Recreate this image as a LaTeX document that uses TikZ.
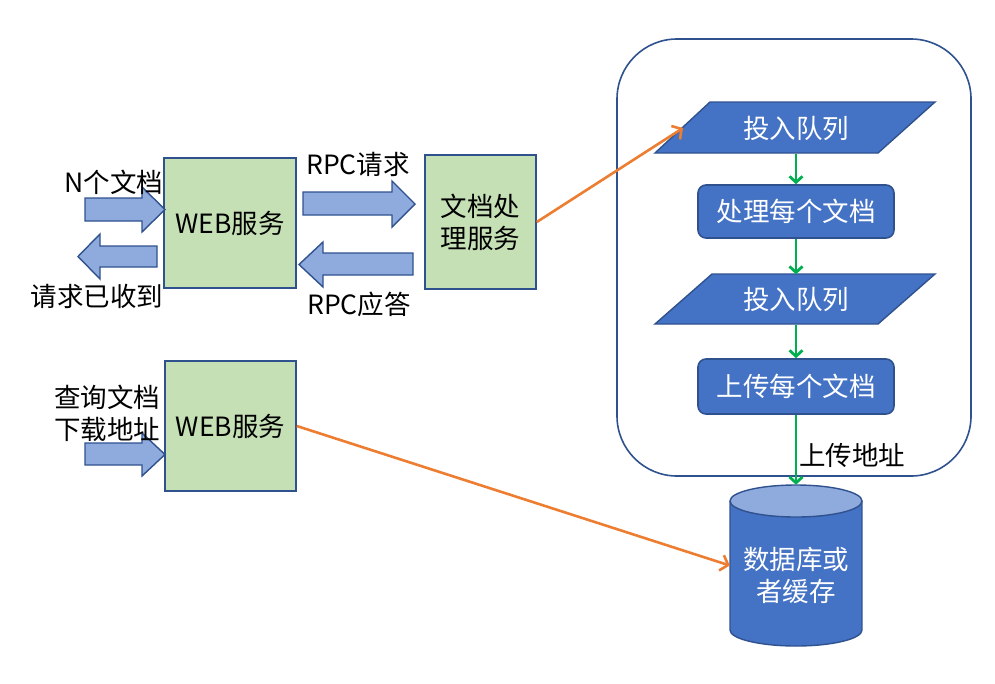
\documentclass[tikz,border=0pt]{standalone}
\usepackage{fontspec}
\setmainfont{Noto Sans CJK SC}
\usetikzlibrary{arrows.meta}
\definecolor{bordc}{HTML}{2F528F}
\definecolor{greenf}{HTML}{C5E0B4}
\definecolor{arrf}{HTML}{8FAADC}
\definecolor{bluef}{HTML}{4472C4}
\definecolor{orangec}{HTML}{ED7D31}
\definecolor{greenc}{HTML}{00B050}
\tikzset{
  txt/.style={font=\fontsize{26.5}{32}\selectfont, inner sep=0pt, align=center},
  greenbox/.style={txt, draw=bordc, fill=greenf, line width=1.6pt},
  bluebox/.style={txt, draw=bordc, fill=bluef, line width=1.6pt, rounded corners=8pt, text=white, minimum width=196pt},
  ghost/.style={txt, text=white},
  fatarrow/.style={draw=bordc, fill=arrf, line width=1.4pt, line join=miter},
  parallel/.style={draw=bordc, fill=bluef, line width=1.4pt},
  orangearrow/.style={draw=orangec, line width=2.6pt, -{Straight Barb[length=7pt,width=16pt,line width=2.6pt]}},
  greenarrow/.style={draw=greenc, line width=2.8pt, -{Straight Barb[length=6pt,width=13pt,line width=2.8pt]}},
  lbl/.style={txt, text=black}
}
\begin{document}
\begin{tikzpicture}[x=1pt,y=-1pt]
\useasboundingbox (0,0) rectangle (995,683);

% container
\draw[bordc, line width=1.6pt, rounded corners=60pt] (617,39) rectangle (971,476);

% green boxes
\node[greenbox, minimum width=132pt, minimum height=130pt] (web1) at (230,223) {WEB服务};
\node[greenbox, minimum width=111pt, minimum height=134pt] (dp) at (480.5,222) {文档处\\理服务};
\node[greenbox, minimum width=131pt, minimum height=130pt] (web2) at (230.5,426) {WEB服务};

% fat arrows
\draw[fatarrow] (85,198) -- (142,198) -- (142,187) -- (165,209.5) -- (142,232) -- (142,221) -- (85,221) -- cycle;
\draw[fatarrow] (157,246) -- (100,246) -- (100,234) -- (78,256.5) -- (100,279) -- (100,267) -- (157,267) -- cycle;
\draw[fatarrow] (303,192) -- (392,192) -- (392,181) -- (415,204) -- (392,227) -- (392,215) -- (303,215) -- cycle;
\draw[fatarrow] (413,253) -- (323,253) -- (323,242) -- (299,264.5) -- (323,287) -- (323,275) -- (413,275) -- cycle;
\draw[fatarrow] (85,443) -- (142,443) -- (142,433) -- (165,454.5) -- (142,476) -- (142,465) -- (85,465) -- cycle;

% labels
\node[lbl] (l1) at (114,182) {N个文档};
\node[lbl] (l2) at (97,296) {请求已收到};
\node[lbl] (l3) at (358,164) {RPC请求};
\node[lbl] (l4) at (359,304) {RPC应答};
\node[lbl, align=left, anchor=west] (l5) at (54,413) {查询文档\\下载地址};

% parallelograms
\draw[parallel] (710,102) -- (935,102) -- (878,153) -- (655,153) -- cycle;
\node[ghost, minimum width=223pt, minimum height=51pt] (q1) at (796,128) {投入队列};
\draw[parallel] (712,274) -- (935,274) -- (878,324) -- (655,324) -- cycle;
\node[ghost, minimum width=223pt, minimum height=50pt] (q2) at (796,299.5) {投入队列};
\coordinate (q1left) at (683,128);

% rounded process boxes
\node[bluebox, minimum height=53pt] (proc) at (796,211.5) {处理每个文档};
\node[bluebox, minimum height=55pt] (upl) at (796,386.5) {上传每个文档};

% cylinder
\fill[bluef] (730,501) rectangle (862,630);
\fill[bluef] (796,630) ellipse [x radius=66pt, y radius=16pt];
\draw[bordc, line width=1.4pt] (730,501) -- (730,630) arc[start angle=180, end angle=360, x radius=66pt, y radius=16pt] -- (862,501);
\filldraw[draw=bordc, fill=arrf, line width=1.4pt] (796,501) ellipse [x radius=66pt, y radius=16pt];
\node[minimum width=132pt, minimum height=161pt, inner sep=0pt] (cyl) at (796,565.5) {};
\node[ghost] (cyltxt) at (796,575) {数据库或\\者缓存};

% green flow arrows
\draw[greenarrow] (q1.south) -- (proc.north);
\draw[greenarrow] (proc.south) -- (q2.north);
\draw[greenarrow] (q2.south) -- (upl.north);
\draw[greenarrow] (upl.south) -- (cyl.north);
\node[lbl, anchor=west] (l6) at (799,455) {上传地址};

% orange arrows
\draw[orangearrow] (dp.east) -- (q1left);
\draw[orangearrow] (web2.east) -- (cyl.west);
\end{tikzpicture}
\end{document}
